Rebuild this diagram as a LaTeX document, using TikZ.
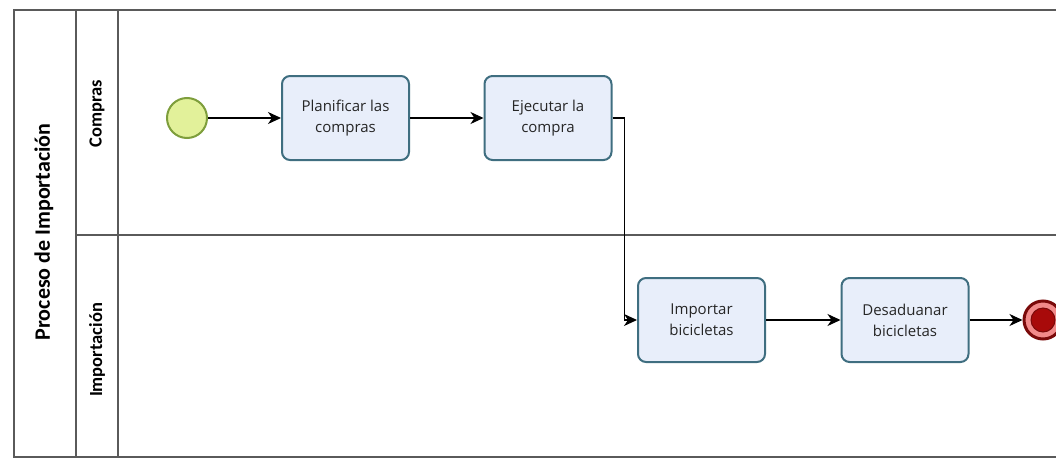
\documentclass[tikz,border=0pt]{standalone}
\usepackage{fontspec}
\setmainfont{Open Sans}
\newfontfamily\lanefont{Carlito}
\usetikzlibrary{arrows.meta}

\definecolor{framegray}{HTML}{5A5A5A}
\definecolor{taskfill}{HTML}{E8EEFA}
\definecolor{taskedge}{HTML}{3F6E80}
\definecolor{startfill}{HTML}{E2F19A}
\definecolor{startedge}{HTML}{7E9E3C}
\definecolor{endpink}{HTML}{F28A8A}
\definecolor{endred}{HTML}{A80A0A}
\definecolor{enddark}{HTML}{7A0A0A}

\tikzset{
  frameline/.style={draw=framegray, line width=1.3pt},
  task/.style={rectangle, rounded corners=8pt, draw=taskedge, line width=2pt,
    fill=taskfill, minimum width=127pt, minimum height=84pt, align=center,
    font=\fontsize{15}{21}\selectfont, text=black!85},
  flow/.style={draw=black, line width=1.2pt, -{Stealth[length=13pt, width=12pt, inset=4pt]}},
  lanelabel/.style={rotate=90, font=\lanefont\bfseries\fontsize{18.5}{22}\selectfont},
  poollabel/.style={rotate=90, font=\lanefont\bfseries\fontsize{22}{26}\selectfont},
}

\begin{document}
\begin{tikzpicture}[x=1pt, y=-1pt]
\useasboundingbox (0,0) rectangle (1056,460);
\clip (0,0) rectangle (1056,460);

% pool and lane frame
\draw[frameline] (1060,10) -- (14,10) -- (14,457) -- (1060,457);
\draw[frameline] (76,10) -- (76,457);
\draw[frameline] (118,10) -- (118,457);
\draw[frameline] (76,235) -- (1060,235);

% pool and lane titles
\node[poollabel] (pool) at (44,232) {Proceso de Importación};
\node[lanelabel] (lane1) at (97,114) {Compras};
\node[lanelabel] (lane2) at (97,350) {Importación};

% events and tasks
\node[circle, minimum size=40pt, draw=startedge, line width=2pt, fill=startfill] (start) at (187,118) {};
\node[task] (t1) at (345.5,118) {Planificar las\\compras};
\node[task] (t2) at (548,118) {Ejecutar la\\compra};
\node[task] (t3) at (701.5,320) {Importar\\bicicletas};
\node[task] (t4) at (905,320) {Desaduanar\\bicicletas};
\node[circle, minimum size=38pt, draw=enddark, line width=3pt, fill=endpink] (end) at (1043,320) {};
\node[circle, minimum size=24pt, draw=enddark, line width=1pt, fill=endred] (endcore) at (end.center) {};

% sequence flows
\draw[flow] (start) -- (t1);
\draw[flow] (t1) -- (t2);
\draw[flow] (t2.east) -- ++(12,0) |- (t3.west);
\draw[flow] (t3) -- (t4);
\draw[flow] (t4) -- (end);
\end{tikzpicture}
\end{document}
